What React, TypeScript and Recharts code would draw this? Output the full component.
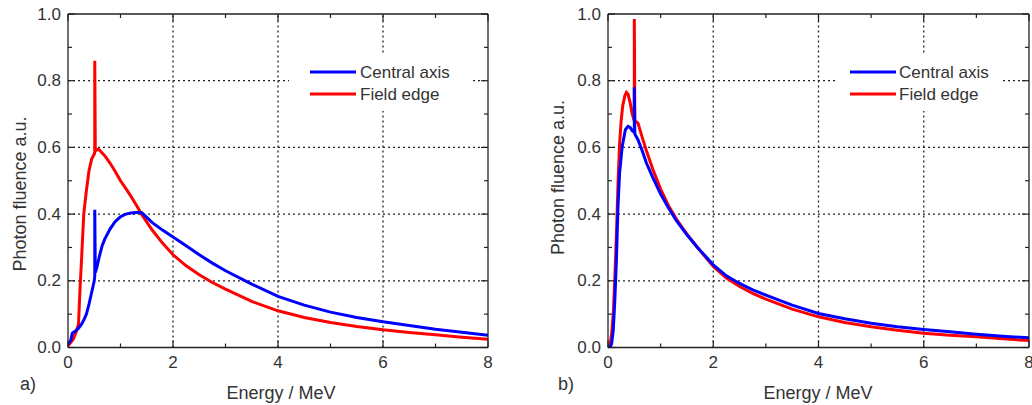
import React from 'react';
import { LineChart, Line, XAxis, YAxis, ReferenceLine } from 'recharts';

// ---------- tick / grid values ----------
const xTicks = [0, 1, 2, 3, 4, 5, 6, 7, 8];
const xLabelTicks = [0, 2, 4, 6, 8];
const yTicks = [0, 0.1, 0.2, 0.3, 0.4, 0.5, 0.6, 0.7, 0.8, 0.9, 1.0];
const yLabelTicks = [0, 0.2, 0.4, 0.6, 0.8, 1.0];
const xGrid = [2, 4, 6];
const yGrid = [0.2, 0.4, 0.6, 0.8];

const seriesNames = ['Central axis', 'Field edge'];
const seriesColors = ['#0000ff', '#ff0000'];

// ---------- panel a) ----------
const energyA_edge = [0, 0.05, 0.1, 0.15, 0.2, 0.23, 0.26, 0.3, 0.35, 0.4, 0.45, 0.5, 0.51, 0.51, 0.52, 0.58, 0.7, 0.8, 0.9, 1.0, 1.1, 1.2, 1.3, 1.4, 1.6, 1.8, 2.0, 2.25, 2.5, 2.75, 3.0, 3.5, 4.0, 4.5, 5.0, 5.5, 6.0, 6.5, 7.0, 7.5, 8.0];
const fluenceA_edge = [0.005, 0.015, 0.025, 0.045, 0.07, 0.18, 0.27, 0.40, 0.47, 0.53, 0.565, 0.58, 0.585, 0.86, 0.59, 0.595, 0.575, 0.553, 0.528, 0.50, 0.477, 0.453, 0.427, 0.40, 0.353, 0.313, 0.278, 0.245, 0.218, 0.195, 0.175, 0.138, 0.11, 0.09, 0.075, 0.063, 0.053, 0.045, 0.038, 0.031, 0.025];

const energyA_axis = [0, 0.05, 0.08, 0.1, 0.15, 0.2, 0.25, 0.3, 0.35, 0.4, 0.45, 0.5, 0.51, 0.51, 0.52, 0.55, 0.6, 0.65, 0.7, 0.8, 0.9, 1.0, 1.1, 1.2, 1.3, 1.4, 1.5, 1.6, 1.8, 2.0, 2.25, 2.5, 2.75, 3.0, 3.5, 4.0, 4.5, 5.0, 5.5, 6.0, 6.5, 7.0, 7.5, 8.0];
const fluenceA_axis = [0.01, 0.02, 0.042, 0.045, 0.05, 0.058, 0.068, 0.082, 0.1, 0.13, 0.165, 0.2, 0.215, 0.413, 0.225, 0.24, 0.275, 0.305, 0.325, 0.355, 0.378, 0.392, 0.40, 0.403, 0.405, 0.405, 0.39, 0.375, 0.352, 0.331, 0.305, 0.278, 0.253, 0.23, 0.19, 0.153, 0.127, 0.106, 0.09, 0.077, 0.066, 0.055, 0.046, 0.037];

// ---------- panel b) ----------
const energyB_edge = [0, 0.04, 0.07, 0.1, 0.13, 0.16, 0.19, 0.22, 0.25, 0.28, 0.32, 0.35, 0.38, 0.42, 0.46, 0.5, 0.5, 0.51, 0.57, 0.65, 0.73, 0.85, 1.0, 1.15, 1.3, 1.5, 1.7, 2.0, 2.25, 2.5, 2.75, 3.0, 3.5, 4.0, 4.5, 5.0, 5.5, 6.0, 6.5, 7.0, 7.5, 8.0];
const fluenceB_edge = [0, 0.01, 0.043, 0.10, 0.21, 0.34, 0.49, 0.61, 0.68, 0.725, 0.755, 0.765, 0.76, 0.735, 0.70, 0.68, 0.985, 0.68, 0.673, 0.63, 0.59, 0.535, 0.475, 0.425, 0.385, 0.34, 0.30, 0.243, 0.208, 0.183, 0.162, 0.145, 0.115, 0.092, 0.075, 0.062, 0.052, 0.043, 0.037, 0.032, 0.026, 0.021];

const energyB_axis = [0, 0.04, 0.07, 0.1, 0.13, 0.16, 0.19, 0.22, 0.27, 0.33, 0.38, 0.42, 0.46, 0.5, 0.5, 0.51, 0.57, 0.65, 0.73, 0.85, 1.0, 1.15, 1.3, 1.5, 1.7, 2.0, 2.25, 2.5, 2.75, 3.0, 3.5, 4.0, 4.5, 5.0, 5.5, 6.0, 6.5, 7.0, 7.5, 8.0];
const fluenceB_axis = [0, 0, 0.012, 0.053, 0.143, 0.263, 0.423, 0.523, 0.603, 0.653, 0.663, 0.66, 0.65, 0.645, 0.78, 0.64, 0.623, 0.59, 0.553, 0.51, 0.46, 0.418, 0.38, 0.338, 0.30, 0.248, 0.215, 0.192, 0.173, 0.157, 0.127, 0.102, 0.086, 0.073, 0.062, 0.054, 0.047, 0.04, 0.034, 0.029];

type Pt = { e: number; v: number };
const zip = (es: number[], vs: number[]): Pt[] => es.map((e, i) => ({ e, v: vs[i] }));

const FONT = '"Liberation Sans", Arial, Helvetica, sans-serif';
const TEXT = '#333333';
const AXIS = '#222222';
const axisLineStyle = { stroke: AXIS, strokeWidth: 1.3 };

const isMajorX = (v: number) => xLabelTicks.indexOf(v) >= 0;
const isMajorY = (v: number) => yLabelTicks.some((t) => Math.abs(t - v) < 1e-6);

const BottomTick = (p: any) => {
  const { x, y, payload } = p;
  const major = isMajorX(payload.value);
  return (
    <g>
      <line x1={x} y1={y} x2={x} y2={y - (major ? 7 : 4)} stroke={AXIS} strokeWidth={1.2} />
      {major && (
        <text x={x} y={y + 15} textAnchor="middle" dominantBaseline="central" fill={TEXT} fontSize={17} fontFamily={FONT}>
          {payload.value}
        </text>
      )}
    </g>
  );
};
const TopTick = (p: any) => {
  const { x, y, payload } = p;
  const major = isMajorX(payload.value);
  return <line x1={x} y1={y} x2={x} y2={y + (major ? 7 : 4)} stroke={AXIS} strokeWidth={1.2} />;
};
const LeftTick = (p: any) => {
  const { x, y, payload } = p;
  const major = isMajorY(payload.value);
  return (
    <g>
      <line x1={x} y1={y} x2={x + (major ? 7 : 4)} y2={y} stroke={AXIS} strokeWidth={1.2} />
      {major && (
        <text x={x - 7} y={y} textAnchor="end" dominantBaseline="central" fill={TEXT} fontSize={17} fontFamily={FONT}>
          {Number(payload.value).toFixed(1)}
        </text>
      )}
    </g>
  );
};
const RightTick = (p: any) => {
  const { x, y, payload } = p;
  const major = isMajorY(payload.value);
  return <line x1={x} y1={y} x2={x - (major ? 7 : 4)} y2={y} stroke={AXIS} strokeWidth={1.2} />;
};

type PanelProps = {
  left: number;
  width: number;
  yAxisWidth: number;
  rightMargin: number;
  edge: Pt[];
  axis: Pt[];
};

function Panel({ left, width, yAxisWidth, rightMargin, edge, axis }: PanelProps) {
  return (
    <div style={{ position: 'absolute', left, top: 0, width, height: 405 }}>
      <LineChart width={width} height={405} margin={{ top: 13, right: rightMargin, bottom: 27.5, left: 0 }}>
        <XAxis xAxisId="b" dataKey="e" type="number" domain={[0, 8]} ticks={xTicks} interval={0} orientation="bottom" height={30}
          tickSize={0} tickMargin={0} tickLine={false} axisLine={axisLineStyle} tick={(p: any) => <BottomTick {...p} />} allowDataOverflow />
        <XAxis xAxisId="t" dataKey="e" type="number" domain={[0, 8]} ticks={xTicks} interval={0} orientation="top" height={1}
          tickSize={0} tickMargin={0} tickLine={false} axisLine={axisLineStyle} tick={(p: any) => <TopTick {...p} />} allowDataOverflow />
        <YAxis yAxisId="l" dataKey="v" type="number" domain={[0, 1]} ticks={yTicks} interval={0} orientation="left" width={yAxisWidth}
          tickSize={0} tickMargin={0} tickLine={false} axisLine={axisLineStyle} tick={(p: any) => <LeftTick {...p} />} allowDataOverflow />
        <YAxis yAxisId="r" dataKey="v" type="number" domain={[0, 1]} ticks={yTicks} interval={0} orientation="right" width={1}
          tickSize={0} tickMargin={0} tickLine={false} axisLine={axisLineStyle} tick={(p: any) => <RightTick {...p} />} allowDataOverflow />
        {xGrid.map((g) => (
          <ReferenceLine key={'x' + g} xAxisId="b" yAxisId="l" x={g} stroke="#222" strokeWidth={1.3} strokeDasharray="2 3" />
        ))}
        {yGrid.map((g) => (
          <ReferenceLine key={'y' + g} xAxisId="b" yAxisId="l" y={g} stroke="#222" strokeWidth={1.3} strokeDasharray="2 3" />
        ))}
        <Line xAxisId="b" yAxisId="l" data={edge} dataKey="v" name={seriesNames[1]} type="linear" stroke={seriesColors[1]}
          strokeWidth={3} dot={false} activeDot={false} isAnimationActive={false} />
        <Line xAxisId="b" yAxisId="l" data={axis} dataKey="v" name={seriesNames[0]} type="linear" stroke={seriesColors[0]}
          strokeWidth={3} dot={false} activeDot={false} isAnimationActive={false} />
      </LineChart>
    </div>
  );
}

type LegendSpec = { boxX: number; boxW: number; lineX: number; textX: number };
const legendA: LegendSpec = { boxX: 289, boxW: 183, lineX: 310, textX: 360 };
const legendB: LegendSpec = { boxX: 837, boxW: 166, lineX: 850, textX: 899 };
const legendRows = [72, 94];

function LegendBox({ spec }: { spec: LegendSpec }) {
  return (
    <g>
      <rect x={spec.boxX} y={53} width={spec.boxW} height={58} fill="#ffffff" />
      {seriesNames.map((n, i) => (
        <g key={n}>
          <line x1={spec.lineX} x2={spec.lineX + 46} y1={legendRows[i]} y2={legendRows[i]} stroke={seriesColors[i]} strokeWidth={3} />
          <text x={spec.textX} y={legendRows[i]} dominantBaseline="central" fill={TEXT} fontSize={17} fontFamily={FONT}>
            {n}
          </text>
        </g>
      ))}
    </g>
  );
}

export default function App() {
  return (
    <div style={{ position: 'absolute', left: 0, top: 0, width: 1032, height: 405, background: '#fff', overflow: 'hidden' }}>
      <Panel left={0} width={520} yAxisWidth={68} rightMargin={31} edge={zip(energyA_edge, fluenceA_edge)} axis={zip(energyA_axis, fluenceA_axis)} />
      <Panel left={520} width={512} yAxisWidth={88} rightMargin={2} edge={zip(energyB_edge, fluenceB_edge)} axis={zip(energyB_axis, fluenceB_axis)} />
      <svg width={1032} height={405} style={{ position: 'absolute', left: 0, top: 0, pointerEvents: 'none' }}>
        <LegendBox spec={legendA} />
        <LegendBox spec={legendB} />
        <text x={19.5} y={194} transform="rotate(-90 19.5 194)" textAnchor="middle" dominantBaseline="central" fill={TEXT} fontSize={18} fontFamily={FONT}>
          Photon fluence a.u.
        </text>
        <text x={557.5} y={177.5} transform="rotate(-90 557.5 177.5)" textAnchor="middle" dominantBaseline="central" fill={TEXT} fontSize={18} fontFamily={FONT}>
          Photon fluence a.u.
        </text>
        <text x={281} y={393} textAnchor="middle" dominantBaseline="central" fill={TEXT} fontSize={18} fontFamily={FONT}>
          Energy / MeV
        </text>
        <text x={818} y={393} textAnchor="middle" dominantBaseline="central" fill={TEXT} fontSize={18} fontFamily={FONT}>
          Energy / MeV
        </text>
        <text x={20} y={384} dominantBaseline="central" fill={TEXT} fontSize={18} fontFamily={FONT}>a)</text>
        <text x={558} y={384} dominantBaseline="central" fill={TEXT} fontSize={18} fontFamily={FONT}>b)</text>
      </svg>
    </div>
  );
}
